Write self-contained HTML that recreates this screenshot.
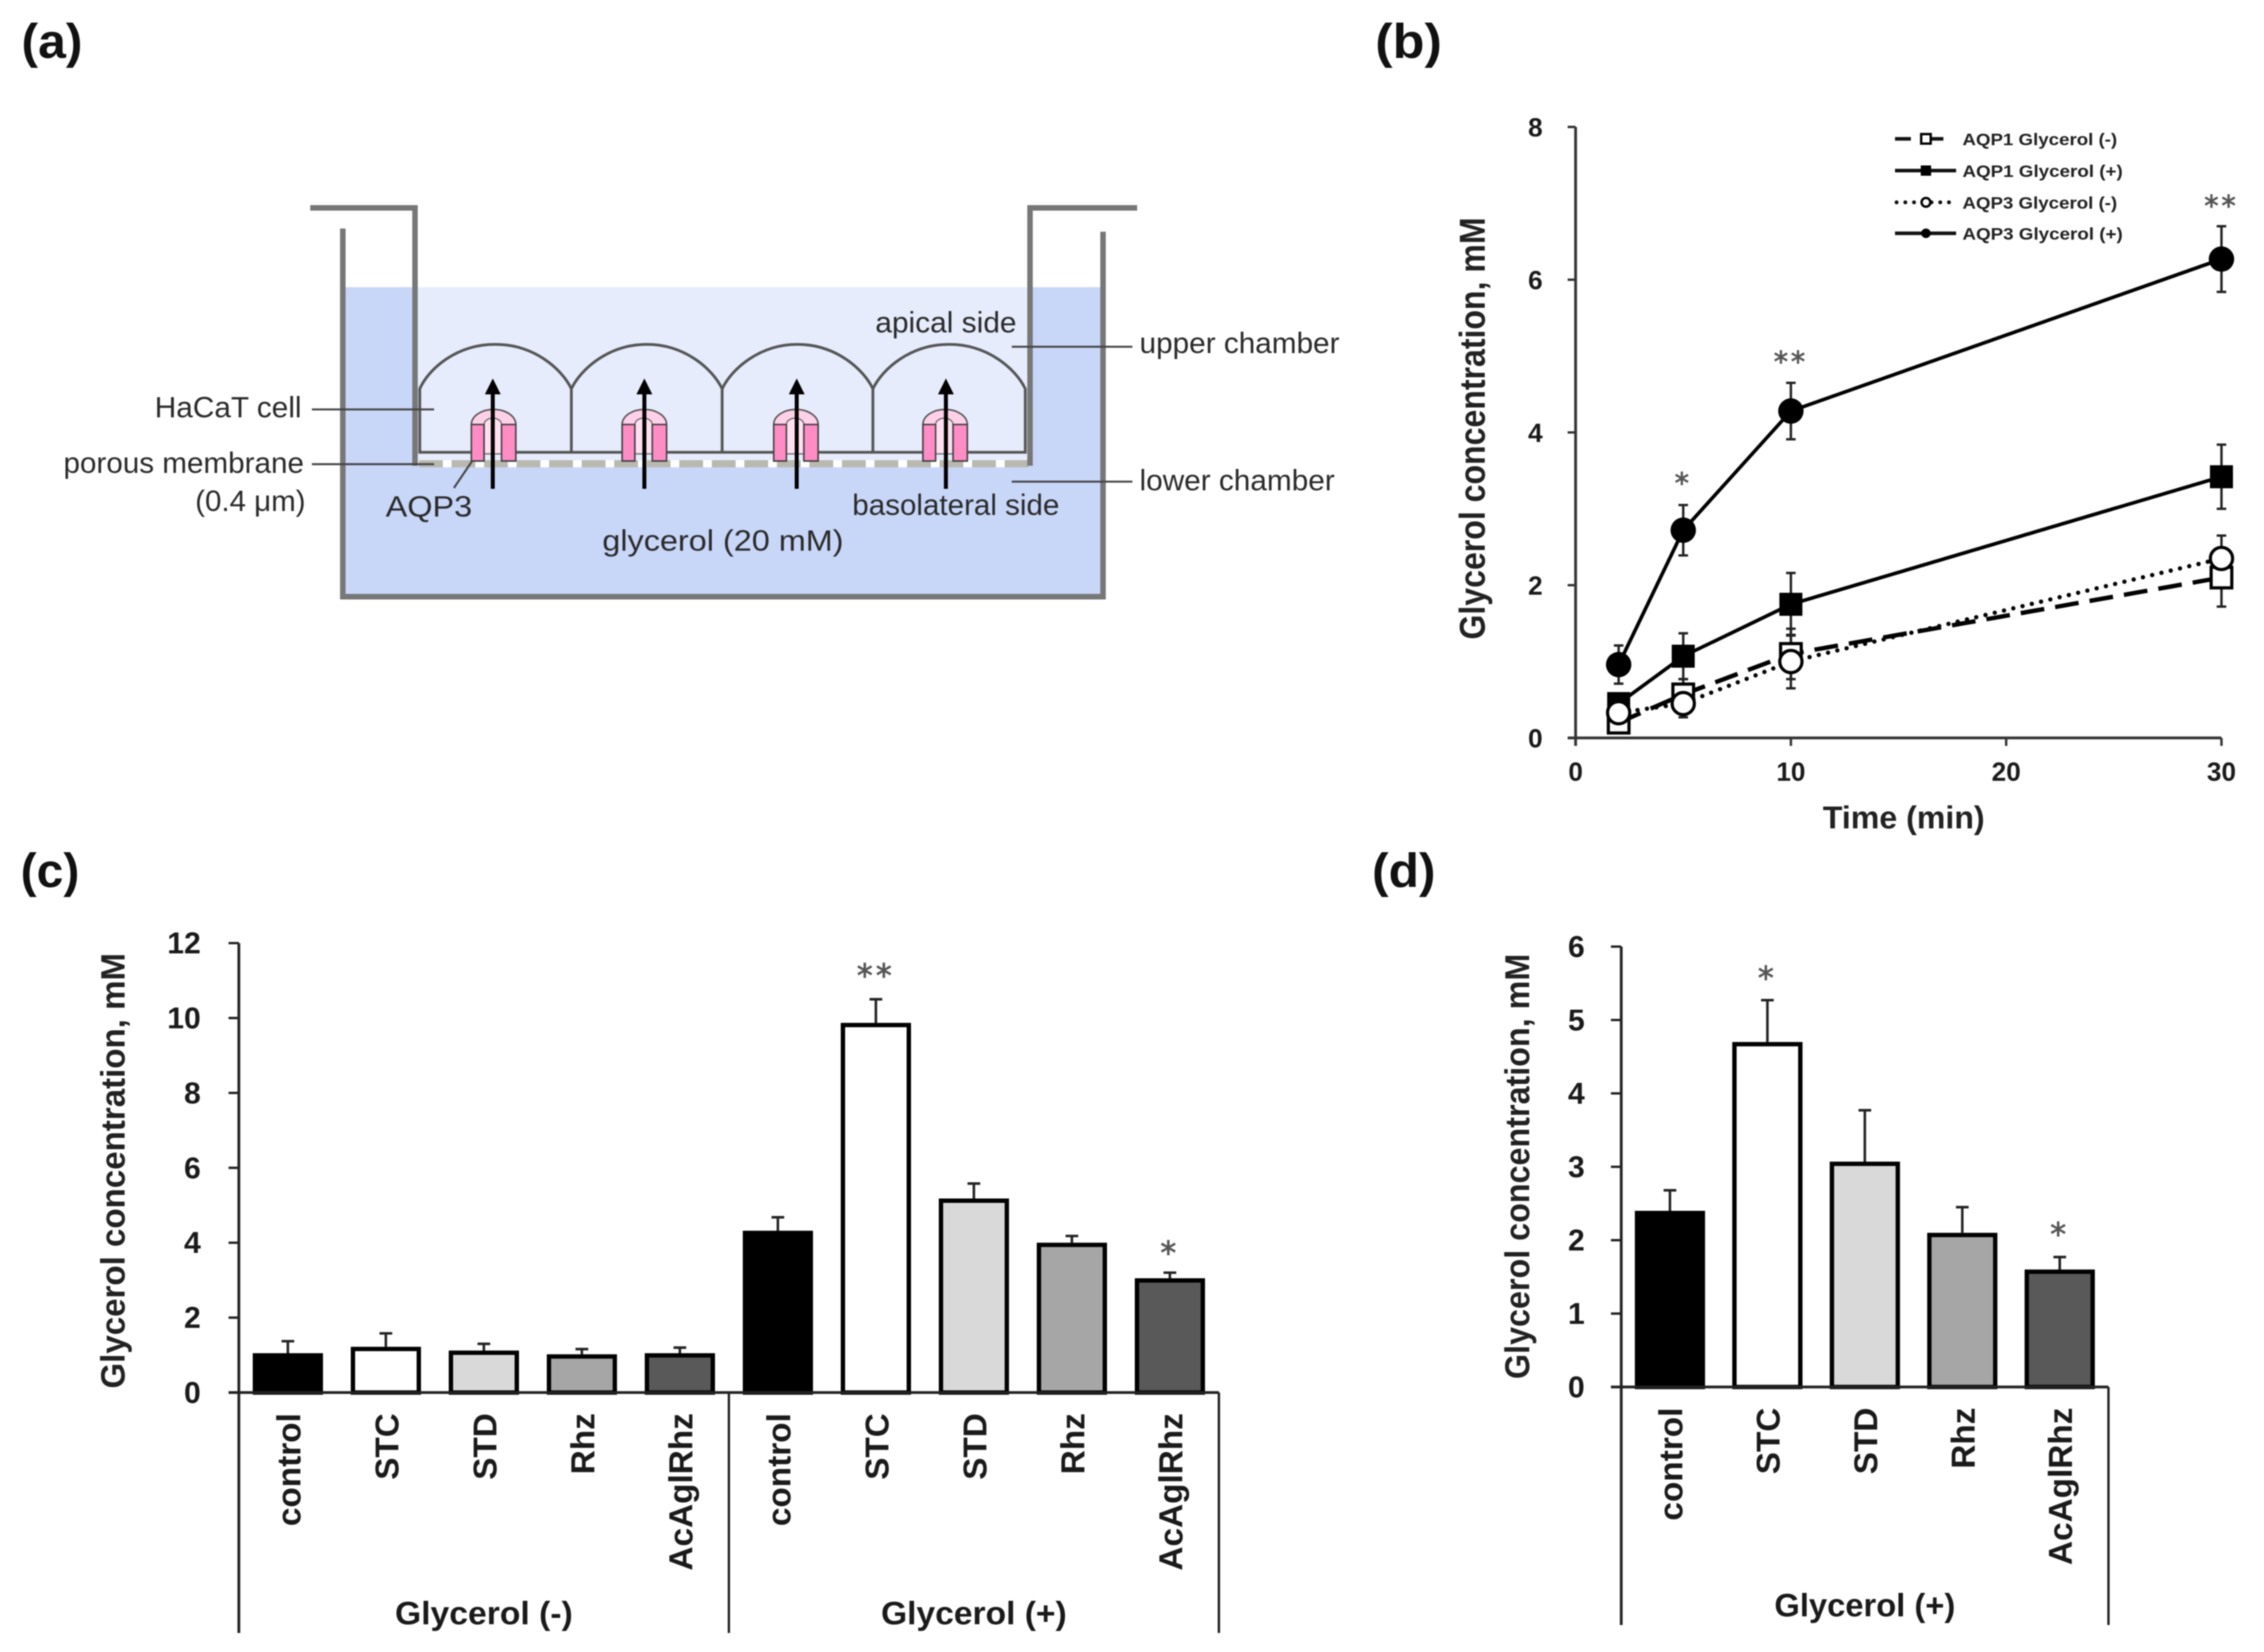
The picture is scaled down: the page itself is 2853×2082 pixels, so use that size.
<!DOCTYPE html>
<html lang="en">
<head>
<meta charset="utf-8">
<title>Glycerol transport figure</title>
<style>
html,body{margin:0;padding:0;background:#fff;}
svg{display:block;filter:blur(0.7px);}
text{font-family:"Liberation Sans",Arial,sans-serif;}
</style>
</head>
<body>
<svg id="fig" xmlns="http://www.w3.org/2000/svg" width="2853" height="2082" viewBox="0 0 2853 2082">
<rect width="2853" height="2082" fill="#fff"/>

<text x="27" y="73" font-size="61" font-weight="bold" fill="#111" textLength="77" lengthAdjust="spacingAndGlyphs">(a)</text>
<text x="1733" y="73" font-size="61" font-weight="bold" fill="#111" textLength="84" lengthAdjust="spacingAndGlyphs">(b)</text>
<text x="26" y="1118" font-size="60" font-weight="bold" fill="#111" textLength="74" lengthAdjust="spacingAndGlyphs">(c)</text>
<text x="1729" y="1118" font-size="60" font-weight="bold" fill="#111" textLength="80" lengthAdjust="spacingAndGlyphs">(d)</text>

<defs>
<g id="aqp">
  <path d="M574 535 A28 19 0 0 1 630 535 V560 H574 Z" fill="#ffd0e8" stroke="#555" stroke-width="2"/>
  <path d="M590 535 A11 8 0 0 1 612 535 V572 H590 Z" fill="#ffdff0" stroke="#666" stroke-width="1.5"/>
  <rect x="574" y="535" width="16" height="46" fill="#ff8cc4" stroke="#444" stroke-width="2"/>
  <rect x="612" y="535" width="18" height="46" fill="#ff8cc4" stroke="#444" stroke-width="2"/>
</g>
<g id="arrow">
  <path d="M600 497 V616" stroke="#000" stroke-width="5" fill="none"/>
  <path d="M600 477 L610 497 H590 Z" fill="#000"/>
</g>
</defs>

<g id="panel-a">
  <rect x="432" y="362" width="958" height="390" fill="#c8d6f8"/>
  <rect x="524" y="362" width="774" height="225" fill="#e6ecfc"/>
  <rect x="528" y="580" width="768" height="9" fill="#fff"/>
  <path d="M528 584.5 H1296" stroke="#b9b9b0" stroke-width="9" stroke-dasharray="30 11" fill="none"/>
  <path d="M529 570 V490 C540 465 575 434 624 434 C673 434 708 465 720 490 C732 465 767 434 815 434 C863 434 898 465 910 490 C922 465 957 434 1005 434 C1053 434 1088 465 1100 490 C1112 465 1147 434 1196 434 C1245 434 1280 465 1292 490 V570 Z M720 490 V570 M910 490 V570 M1100 490 V570" fill="none" stroke="#555" stroke-width="3.5"/>
  <use href="#aqp" x="20"/>
  <use href="#aqp" x="210"/>
  <use href="#aqp" x="401"/>
  <use href="#aqp" x="589"/>
  <use href="#arrow" x="21"/>
  <use href="#arrow" x="212"/>
  <use href="#arrow" x="404"/>
  <use href="#arrow" x="592"/>
  <path d="M432 288 V752 H1390 V292" fill="none" stroke="#777" stroke-width="7"/>
  <path d="M391 262 H523 V587" fill="none" stroke="#777" stroke-width="7"/>
  <path d="M1433 262 H1298 V587" fill="none" stroke="#777" stroke-width="7"/>
  <path d="M393 516 H547 M393 585 H547 M1275 437 H1427 M1275 607 H1427 M595 581 L572 615" stroke="#444" stroke-width="2.5" fill="none"/>
  <g font-size="37" fill="#2a2a2a">
    <text x="195" y="526" textLength="185" lengthAdjust="spacingAndGlyphs">HaCaT cell</text>
    <text x="80" y="596" textLength="303" lengthAdjust="spacingAndGlyphs">porous membrane</text>
    <text x="246" y="644" textLength="139" lengthAdjust="spacingAndGlyphs">(0.4 μm)</text>
    <text x="486" y="651" textLength="109" lengthAdjust="spacingAndGlyphs">AQP3</text>
    <text x="759" y="694" textLength="304" lengthAdjust="spacingAndGlyphs">glycerol (20 mM)</text>
    <text x="1074" y="649" textLength="261" lengthAdjust="spacingAndGlyphs">basolateral side</text>
    <text x="1103" y="419" textLength="178" lengthAdjust="spacingAndGlyphs">apical side</text>
    <text x="1436" y="445" textLength="252" lengthAdjust="spacingAndGlyphs">upper chamber</text>
    <text x="1436" y="618" textLength="246" lengthAdjust="spacingAndGlyphs">lower chamber</text>
  </g>
</g>
<g id="panel-b"></g>
<g id="panel-c"></g>
<g id="panel-d"></g>
</svg>

<script>
// ---- panel (b) data ----
const timesB = [2, 5, 10, 30];
const xTicksB = [0, 10, 20, 30];
const yTicksB = [0, 2, 4, 6, 8];
const seriesNamesB = ['AQP1 Glycerol (-)', 'AQP1 Glycerol (+)', 'AQP3 Glycerol (-)', 'AQP3 Glycerol (+)'];
const aqp1Minus = [0.2, 0.57, 1.1, 2.1];
const aqp1MinusErr = [0.1, 0.2, 0.33, 0.38];
const aqp1Plus = [0.45, 1.07, 1.75, 3.42];
const aqp1PlusErr = [0.1, 0.3, 0.41, 0.42];
const aqp3Minus = [0.33, 0.45, 1.0, 2.35];
const aqp3MinusErr = [0.1, 0.18, 0.35, 0.3];
const aqp3Plus = [0.96, 2.72, 4.28, 6.27];
const aqp3PlusErr = [0.25, 0.33, 0.37, 0.43];
const starTimesB = [5, 10, 30];
const starLevelsB = [3.41, 5.0, 7.04];
const starMarksB = ['*', '**', '**'];

// ---- panel (c) data ----
const categoriesC = ['control', 'STC', 'STD', 'Rhz', 'AcAglRhz', 'control', 'STC', 'STD', 'Rhz', 'AcAglRhz'];
const groupsC = ['Glycerol (-)', 'Glycerol (+)'];
const valuesC = [1.05, 1.22, 1.12, 1.02, 1.05, 4.32, 9.87, 5.18, 4.0, 3.05];
const errTopsC = [1.37, 1.58, 1.3, 1.16, 1.2, 4.68, 10.5, 5.58, 4.18, 3.2];
const yTicksC = [0, 2, 4, 6, 8, 10, 12];
const starIndexC = [6, 9];
const starLevelsC = [11.29, 3.88];
const starMarksC = ['**', '*'];

// ---- panel (d) data ----
const categoriesD = ['control', 'STC', 'STD', 'Rhz', 'AcAglRhz'];
const groupsD = ['Glycerol (+)'];
const valuesD = [2.4, 4.7, 3.07, 2.1, 1.6];
const errTopsD = [2.68, 5.27, 3.77, 2.45, 1.77];
const yTicksD = [0, 1, 2, 3, 4, 5, 6];
const starIndexD = [1, 4];
const starLevelsD = [5.65, 2.16];
const starMarksD = ['*', '*'];

const barFills = ['#000000', '#ffffff', '#d9d9d9', '#a6a6a6', '#595959'];
const NS = 'http://www.w3.org/2000/svg';

function mk(tag, attrs, parent) {
  const el = document.createElementNS(NS, tag);
  for (const k in attrs) el.setAttribute(k, attrs[k]);
  parent.appendChild(el);
  return el;
}
function label(str, attrs, parent) {
  const el = mk('text', attrs, parent);
  el.textContent = str;
  return el;
}
function star(str, cx, cy, size, parent) {
  const el = label(str, {
    x: cx, y: cy + size * 0.53, 'font-size': size, fill: '#555', stroke: '#555', 'stroke-width': 0.9,
    'text-anchor': 'middle', 'letter-spacing': size * 0.1
  }, parent);
  el.style.fontFamily = '"DejaVu Sans", sans-serif';
  
  
}

// ---------- panel (b) ----------
(function () {
  const g = document.getElementById('panel-b');
  const x = t => 1985.5 + t * 27.13;
  const y = v => 930 - v * 96.25;
  const axisColor = '#333';

  const yAxis = mk('line', { x1: x(0), x2: x(0), y1: y(8), y2: y(0) + 10, stroke: axisColor, 'stroke-width': 3.5 }, g);
  
  
  const xAxis = mk('line', { x1: x(0) - 10, x2: x(30), y1: y(0), y2: y(0), stroke: axisColor, 'stroke-width': 3.5 }, g);
  
  

  yTicksB.forEach(v => {
    const tick = mk('line', { x1: x(0) - 10, x2: x(0), y1: y(v), y2: y(v), stroke: axisColor, 'stroke-width': 3 }, g);
    
    
    const t = label(String(v), { x: 1944, y: y(v) + 12, 'font-size': 33, 'font-weight': 'bold', fill: '#1a1a1a', 'text-anchor': 'end' }, g);
    
    
  });
  xTicksB.forEach(v => {
    const tick = mk('line', { x1: x(v), x2: x(v), y1: y(0), y2: y(0) + 10, stroke: axisColor, 'stroke-width': 3 }, g);
    
    
    const t = label(String(v), { x: x(v), y: 984, 'font-size': 33, 'font-weight': 'bold', fill: '#1a1a1a', 'text-anchor': 'middle' }, g);
    
    
  });

  const yTitle = label('Glycerol concentration, mM', {
    transform: 'translate(1871,806) rotate(-90)', 'font-size': 45, 'font-weight': 'bold', fill: '#222',
    textLength: 532, lengthAdjust: 'spacingAndGlyphs'
  }, g);
  
  
  const xTitle = label('Time (min)', {
    x: 2297, y: 1044, 'font-size': 40, 'font-weight': 'bold', fill: '#222',
    textLength: 204, lengthAdjust: 'spacingAndGlyphs'
  }, g);
  
  

  const dashes = ['30 14', 'none', '0 12', 'none'];
  const caps = ['butt', 'butt', 'round', 'butt'];
  const widths = [5.5, 4.5, 5.5, 4.5];
  const vals = [aqp1Minus, aqp1Plus, aqp3Minus, aqp3Plus];
  const errs = [aqp1MinusErr, aqp1PlusErr, aqp3MinusErr, aqp3PlusErr];

  vals.forEach((vs, s) => {
    errs[s].forEach((e, i) => {
      const bar = mk('path', {
        d: 'M' + x(timesB[i]) + ' ' + y(vs[i] - e) + 'V' + y(vs[i] + e) +
           'M' + (x(timesB[i]) - 6) + ' ' + y(vs[i] + e) + 'h12' +
           'M' + (x(timesB[i]) - 6) + ' ' + y(vs[i] - e) + 'h12',
        stroke: '#222', 'stroke-width': 3, fill: 'none'
      }, g);
      
      
    });
  });
  vals.forEach((vs, s) => {
    const line = mk('polyline', {
      points: vs.map((v, i) => x(timesB[i]) + ',' + y(v)).join(' '),
      fill: 'none', stroke: '#000', 'stroke-width': widths[s], 'stroke-linecap': caps[s],
      'stroke-dasharray': dashes[s]
    }, g);
    
    
    vs.forEach((v, i) => {
      const open = s % 2 === 0;
      let m;
      if (s < 2) {
        m = mk('rect', {
          x: x(timesB[i]) - (open ? 13 : 14.5), y: y(v) - (open ? 13 : 14.5),
          width: open ? 26 : 29, height: open ? 26 : 29,
          fill: open ? '#fff' : '#000', stroke: open ? '#000' : 'none', 'stroke-width': 4
        }, g);
      } else {
        m = mk('circle', {
          cx: x(timesB[i]), cy: y(v), r: open ? 14 : 16,
          fill: open ? '#fff' : '#000', stroke: open ? '#000' : 'none', 'stroke-width': 4
        }, g);
      }
      
      
    });
  });

  starTimesB.forEach((t, i) => star(starMarksB[i], x(t), y(starLevelsB[i]), 36, g));

  // legend
  const legendRows = [175, 215, 255, 294];
  const legendTextLen = [195, 202, 195, 202];
  seriesNamesB.forEach((name, s) => {
    const ly = legendRows[s];
    const entry = mk('g', {}, g);
    
    
    const dash = s === 0 ? '20 24 17' : s === 2 ? '0 11' : 'none';
    mk('line', {
      x1: s === 2 ? 2390 : 2388, x2: s === 0 ? 2449 : s === 2 ? 2462 : 2465, y1: ly, y2: ly,
      stroke: '#111', 'stroke-width': s === 2 ? 5 : 4.5, 'stroke-dasharray': dash,
      'stroke-linecap': s === 2 ? 'round' : 'butt'
    }, entry);
    if (s < 2) {
      mk('rect', {
        x: 2421, y: ly - 6, width: 12, height: 12,
        fill: s === 0 ? '#fff' : '#000', stroke: '#000', 'stroke-width': s === 0 ? 3 : 1
      }, entry);
    } else {
      mk('circle', { cx: 2427, cy: ly, r: 5.5, fill: s === 2 ? '#fff' : '#000', stroke: '#000', 'stroke-width': s === 2 ? 3 : 1 }, entry);
    }
    label(name, {
      x: 2473, y: ly + 8, 'font-size': 21, 'font-weight': 'bold', fill: '#222',
      textLength: legendTextLen[s], lengthAdjust: 'spacingAndGlyphs'
    }, entry);
  });
})();

// ---------- panels (c) and (d) ----------
function drawBars(g, cfg) {
  const y = v => cfg.y0 - v * cfg.unit;
  const band = cfg.bandWidth;
  const xc = i => cfg.x0 + (i + 0.5) * band;
  const n = cfg.categories.length;
  const xEnd = cfg.x0 + n * band;
  const axisColor = '#222';

  const yAxis = mk('line', { x1: cfg.x0, x2: cfg.x0, y1: y(cfg.ticks[cfg.ticks.length - 1]), y2: cfg.bottom, stroke: axisColor, 'stroke-width': 3.5 }, g);
  
  

  cfg.ticks.forEach(v => {
    const tick = mk('line', { x1: cfg.x0 - 13, x2: cfg.x0, y1: y(v), y2: y(v), stroke: axisColor, 'stroke-width': 3 }, g);
    
    
    const t = label(String(v), { x: cfg.tickRight, y: y(v) + 13, 'font-size': 38, 'font-weight': 'bold', fill: '#1a1a1a', 'text-anchor': 'end' }, g);
    
    
  });

  cfg.values.forEach((v, i) => {
    const top = cfg.errTops[i];
    const err = mk('path', {
      d: 'M' + xc(i) + ' ' + y(v) + 'V' + y(top) + 'M' + (xc(i) - 8) + ' ' + y(top) + 'h16',
      stroke: '#222', 'stroke-width': 3.2, fill: 'none'
    }, g);
    
    
    const bar = mk('rect', {
      x: xc(i) - 41.5, y: y(v) + 2.7, width: 83, height: Math.max(0, cfg.y0 - y(v) - 2.7),
      fill: barFills[i % 5], stroke: '#000', 'stroke-width': 5.5
    }, g);
    
    
    const cat = label(cfg.categories[i], {
      transform: 'translate(' + (xc(i) + 15.5) + ',' + cfg.labelTop + ') rotate(-90)',
      'font-size': 42, 'font-weight': 'bold', fill: '#1a1a1a', 'text-anchor': 'end'
    }, g);
    
    
  });

  const xAxis = mk('line', { x1: cfg.x0 - 13, x2: xEnd, y1: cfg.y0, y2: cfg.y0, stroke: axisColor, 'stroke-width': 3.5 }, g);
  
  

  const perGroup = n / cfg.groups.length;
  cfg.groups.forEach((name, k) => {
    const edge = cfg.x0 + (k + 1) * perGroup * band;
    const div = mk('line', { x1: edge, x2: edge, y1: cfg.y0, y2: cfg.bottom, stroke: axisColor, 'stroke-width': 3 }, g);
    
    
    const t = label(name, {
      x: cfg.x0 + (k + 0.5) * perGroup * band, y: cfg.groupY, 'font-size': 41, 'font-weight': 'bold', fill: '#1a1a1a',
      'text-anchor': 'middle', textLength: cfg.groupLens[k], lengthAdjust: 'spacingAndGlyphs'
    }, g);
    
    
  });

  cfg.starIndex.forEach((idx, i) => star(cfg.starMarks[i], xc(idx), y(cfg.starLevels[i]), 40, g));

  const title = label('Glycerol concentration, mM', {
    transform: 'translate(' + cfg.titleX + ',' + cfg.titleBottom + ') rotate(-90)',
    'font-size': cfg.titleSize, 'font-weight': 'bold', fill: '#222',
    textLength: cfg.titleLen, lengthAdjust: 'spacingAndGlyphs'
  }, g);
  
  
}

drawBars(document.getElementById('panel-c'), {
  x0: 301, y0: 1755, unit: 47.2, bandWidth: 123.5, bottom: 2058,
  categories: categoriesC, values: valuesC, errTops: errTopsC, ticks: yTicksC, groups: groupsC,
  groupLens: [224, 234], groupY: 2047, labelTop: 1781, tickRight: 253,
  starIndex: starIndexC, starLevels: starLevelsC, starMarks: starMarksC,
  titleX: 157, titleBottom: 1750, titleLen: 549, titleSize: 43
});
drawBars(document.getElementById('panel-d'), {
  x0: 2043, y0: 1748, unit: 92.5, bandWidth: 122.8, bottom: 2048,
  categories: categoriesD, values: valuesD, errTops: errTopsD, ticks: yTicksD, groups: groupsD,
  groupLens: [228], groupY: 2037, labelTop: 1774, tickRight: 1997,
  starIndex: starIndexD, starLevels: starLevelsD, starMarks: starMarksD,
  titleX: 1927, titleBottom: 1738, titleLen: 536, titleSize: 44
});
</script>
</body>
</html>
